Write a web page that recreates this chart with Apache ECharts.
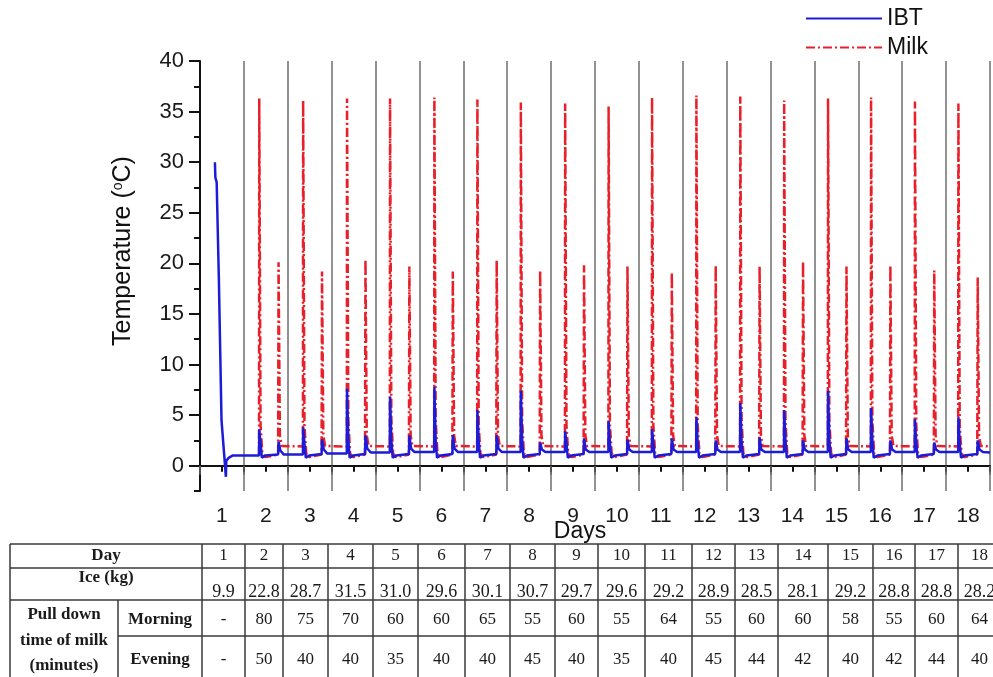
<!DOCTYPE html>
<html>
<head>
<meta charset="utf-8">
<script src="https://cdn.jsdelivr.net/npm/echarts@6/dist/echarts.min.js"></script>
<style>
  html, body { margin: 0; padding: 0; background: #fff; }
  #main { width: 993px; height: 677px; }
</style>
</head>
<body>
<div id="main"></div>
<script>
// IBT (ice bank temperature), [day, °C]
var ibtData = [
  [0.84, 30.0], [0.85, 28.5], [0.88, 28.0], [0.93, 18.4], [0.99, 4.5], [1.09, -1.1], [1.10, 0.5], [1.16, 0.8], [1.24, 1.0],
  [1.845, 1.0], [1.85, 3.6], [1.88, 2.2], [1.91, 0.8], [1.99, 1.0], [2.28, 1.1], [2.29, 2.4], [2.33, 1.5], [2.41, 1.1],
  [2.845, 1.1], [2.85, 3.8], [2.88, 2.2], [2.91, 0.8], [2.99, 1.0], [3.27, 1.15], [3.28, 2.6], [3.32, 1.6], [3.40, 1.2],
  [3.845, 1.2], [3.85, 7.6], [3.88, 2.5], [3.91, 0.8], [3.99, 1.0], [4.26, 1.15], [4.27, 3.0], [4.31, 1.7], [4.39, 1.3],
  [4.825, 1.3], [4.83, 6.8], [4.86, 2.5], [4.89, 0.8], [4.97, 1.0], [5.26, 1.15], [5.27, 3.0], [5.31, 1.7], [5.39, 1.35],
  [5.835, 1.35], [5.84, 7.8], [5.87, 2.5], [5.90, 0.8], [5.98, 1.0], [6.25, 1.15], [6.26, 3.0], [6.30, 1.7], [6.38, 1.35],
  [6.815, 1.35], [6.82, 5.5], [6.85, 2.5], [6.88, 0.8], [6.96, 1.0], [7.25, 1.15], [7.26, 3.0], [7.30, 1.7], [7.38, 1.35],
  [7.805, 1.35], [7.81, 7.4], [7.84, 2.5], [7.87, 0.8], [7.95, 1.0], [8.24, 1.15], [8.25, 2.3], [8.29, 1.6], [8.37, 1.35],
  [8.815, 1.35], [8.82, 3.4], [8.85, 2.2], [8.88, 0.8], [8.96, 1.0], [9.24, 1.15], [9.25, 2.7], [9.29, 1.6], [9.37, 1.35],
  [9.805, 1.35], [9.81, 4.4], [9.84, 2.2], [9.87, 0.8], [9.95, 1.0], [10.23, 1.15], [10.24, 2.6], [10.28, 1.6], [10.36, 1.35],
  [10.795, 1.35], [10.80, 3.6], [10.83, 2.2], [10.86, 0.8], [10.94, 1.0], [11.24, 1.15], [11.25, 2.7], [11.29, 1.6], [11.37, 1.35],
  [11.805, 1.35], [11.81, 4.8], [11.84, 2.2], [11.87, 0.8], [11.95, 1.0], [12.24, 1.15], [12.25, 2.5], [12.29, 1.6], [12.37, 1.35],
  [12.805, 1.35], [12.81, 6.2], [12.84, 2.5], [12.87, 0.8], [12.95, 1.0], [13.24, 1.15], [13.25, 2.8], [13.29, 1.6], [13.37, 1.35],
  [13.805, 1.35], [13.81, 5.5], [13.84, 2.5], [13.87, 0.8], [13.95, 1.0], [14.23, 1.15], [14.24, 2.5], [14.28, 1.6], [14.36, 1.35],
  [14.805, 1.35], [14.81, 7.4], [14.84, 2.5], [14.87, 0.8], [14.95, 1.0], [15.22, 1.15], [15.23, 2.7], [15.27, 1.6], [15.35, 1.35],
  [15.785, 1.35], [15.79, 5.7], [15.82, 2.5], [15.85, 0.8], [15.93, 1.0], [16.22, 1.15], [16.23, 2.5], [16.27, 1.6], [16.35, 1.35],
  [16.785, 1.35], [16.79, 4.6], [16.82, 2.2], [16.85, 0.8], [16.93, 1.0], [17.22, 1.15], [17.23, 2.3], [17.27, 1.6], [17.35, 1.35],
  [17.775, 1.35], [17.78, 4.8], [17.81, 2.2], [17.84, 0.8], [17.92, 1.0], [18.21, 1.15], [18.22, 2.5], [18.26, 1.6], [18.34, 1.35], [18.5, 1.3]
];

// Milk temperature, [day, °C]
var milkData = [
  [1.845, 1.0], [1.85, 36.3], [1.88, 4.0], [1.92, 1.2], [1.99, 0.85], [2.28, 1.1], [2.29, 20.1], [2.32, 3.0], [2.36, 1.95],
  [2.845, 1.9], [2.85, 36.1], [2.88, 4.0], [2.92, 1.2], [2.99, 0.85], [3.27, 1.1], [3.28, 19.2], [3.31, 3.0], [3.35, 1.95],
  [3.845, 1.9], [3.85, 36.3], [3.88, 4.5], [3.92, 1.2], [3.99, 0.85], [4.26, 1.1], [4.27, 20.4], [4.30, 3.0], [4.34, 1.95],
  [4.825, 1.9], [4.83, 36.3], [4.86, 4.5], [4.90, 1.2], [4.97, 0.85], [5.26, 1.1], [5.27, 19.7], [5.30, 3.0], [5.34, 1.95],
  [5.835, 1.9], [5.84, 36.4], [5.87, 4.5], [5.91, 1.2], [5.98, 0.85], [6.25, 1.1], [6.26, 19.2], [6.29, 3.0], [6.33, 1.95],
  [6.815, 1.9], [6.82, 36.2], [6.85, 4.0], [6.89, 1.2], [6.96, 0.85], [7.25, 1.1], [7.26, 20.3], [7.29, 3.0], [7.33, 1.95],
  [7.805, 1.9], [7.81, 35.9], [7.84, 4.5], [7.88, 1.2], [7.95, 0.85], [8.24, 1.1], [8.25, 19.3], [8.28, 3.0], [8.32, 1.95],
  [8.815, 1.9], [8.82, 35.8], [8.85, 4.0], [8.89, 1.2], [8.96, 0.85], [9.24, 1.1], [9.25, 19.8], [9.28, 3.0], [9.32, 1.95],
  [9.805, 1.9], [9.81, 35.5], [9.84, 4.0], [9.88, 1.2], [9.95, 0.85], [10.23, 1.1], [10.24, 19.7], [10.27, 3.0], [10.31, 1.95],
  [10.795, 1.9], [10.80, 36.4], [10.83, 4.0], [10.87, 1.2], [10.94, 0.85], [11.24, 1.1], [11.25, 19.1], [11.28, 3.0], [11.32, 1.95],
  [11.805, 1.9], [11.81, 36.6], [11.84, 4.0], [11.88, 1.2], [11.95, 0.85], [12.24, 1.1], [12.25, 19.8], [12.28, 3.0], [12.32, 1.95],
  [12.805, 1.9], [12.81, 36.5], [12.84, 4.5], [12.88, 1.2], [12.95, 0.85], [13.24, 1.1], [13.25, 19.7], [13.28, 3.0], [13.32, 1.95],
  [13.805, 1.9], [13.81, 36.1], [13.84, 4.5], [13.88, 1.2], [13.95, 0.85], [14.23, 1.1], [14.24, 20.2], [14.27, 3.0], [14.31, 1.95],
  [14.805, 1.9], [14.81, 36.3], [14.84, 4.5], [14.88, 1.2], [14.95, 0.85], [15.22, 1.1], [15.23, 19.7], [15.26, 3.0], [15.30, 1.95],
  [15.785, 1.9], [15.79, 36.4], [15.82, 4.5], [15.86, 1.2], [15.93, 0.85], [16.22, 1.1], [16.23, 19.8], [16.26, 3.0], [16.30, 1.95],
  [16.785, 1.9], [16.79, 36.0], [16.82, 4.0], [16.86, 1.2], [16.93, 0.85], [17.22, 1.1], [17.23, 19.3], [17.26, 3.0], [17.30, 1.95],
  [17.775, 1.9], [17.78, 35.8], [17.81, 4.0], [17.85, 1.2], [17.92, 0.85], [18.21, 1.1], [18.22, 18.6], [18.25, 3.0], [18.29, 1.95], [18.5, 1.9]
];

// table under the chart
var dayList = ['1', '2', '3', '4', '5', '6', '7', '8', '9', '10', '11', '12', '13', '14', '15', '16', '17', '18'];
var iceKg = ['9.9', '22.8', '28.7', '31.5', '31.0', '29.6', '30.1', '30.7', '29.7', '29.6', '29.2', '28.9', '28.5', '28.1', '29.2', '28.8', '28.8', '28.2'];
var pullMorning = ['-', '80', '75', '70', '60', '60', '65', '55', '60', '55', '64', '55', '60', '60', '58', '55', '60', '64'];
var pullEvening = ['-', '50', '40', '40', '35', '40', '40', '45', '40', '35', '40', '45', '44', '42', '40', '42', '44', '40'];

// table layout (pixels)
var colX = [10, 118, 202, 245, 283, 328, 373, 418, 465, 510, 555, 598, 645, 692, 735, 778, 828, 873, 915, 958, 1001];
var rowY = [544, 568, 600, 636, 680];

var myChart = echarts.init(document.getElementById('main'));

function buildTable() {
    var els = [];
    var lineStyle = { stroke: '#3a3a3a', lineWidth: 1.5 };
    function hLine(y, x1, x2) {
        els.push({ type: 'line', shape: { x1: x1, y1: y, x2: x2, y2: y }, style: lineStyle, silent: true });
    }
    function vLine(x, y1, y2) {
        els.push({ type: 'line', shape: { x1: x, y1: y1, x2: x, y2: y2 }, style: lineStyle, silent: true });
    }
    function txt(s, x, y, bold, size) {
        els.push({
            type: 'text', x: x, y: y, silent: true,
            style: {
                text: s, fill: '#1a1a1a',
                font: (bold ? 'bold ' : '') + size + 'px "Liberation Serif", serif',
                textAlign: 'center', textVerticalAlign: 'middle'
            }
        });
    }
    hLine(rowY[0], colX[0], 993);
    hLine(rowY[1], colX[0], 993);
    hLine(rowY[2], colX[0], 993);
    hLine(rowY[3], colX[1], 993);
    vLine(colX[0], rowY[0], 677);
    vLine(colX[1], rowY[2], 677);
    for (var c = 2; c < colX.length - 1; c++) {
        vLine(colX[c], rowY[0], 677);
    }
    txt('Day', (colX[0] + colX[2]) / 2, 556, true, 17);
    txt('Ice (kg)', (colX[0] + colX[2]) / 2, 578, true, 17);
    txt('Pull down', (colX[0] + colX[1]) / 2, 615, true, 17);
    txt('time of milk', (colX[0] + colX[1]) / 2, 641, true, 17);
    txt('(minutes)', (colX[0] + colX[1]) / 2, 666, true, 17);
    txt('Morning', (colX[1] + colX[2]) / 2, 620, true, 17);
    txt('Evening', (colX[1] + colX[2]) / 2, 660, true, 17);
    for (var i = 0; i < dayList.length; i++) {
        var cx = (colX[i + 2] + colX[i + 3]) / 2;
        txt(dayList[i], cx, 556, false, 17);
        txt(iceKg[i], cx, 592, false, 18);
        txt(pullMorning[i], cx, 620, false, 17);
        txt(pullEvening[i], cx, 660, false, 17);
    }
    return els;
}

var majorY = [0, 5, 10, 15, 20, 25, 30, 35, 40];

var option = {
    animation: false,
    backgroundColor: '#fff',
    textStyle: { fontFamily: 'Liberation Sans, Arial, sans-serif' },
    grid: { left: 200, right: 0, top: 61, bottom: 186, containLabel: false },
    legend: {
        data: ['IBT', 'Milk'],
        orient: 'vertical',
        left: 800,
        top: 2,
        itemWidth: 76,
        itemHeight: 14,
        itemGap: 6,
        itemStyle: { opacity: 0 },
        textStyle: { fontSize: 23, color: '#111' }
    },
    xAxis: [{
        type: 'value',
        min: 0.5,
        max: 18.5,
        interval: 0.5,
        name: 'Days',
        nameLocation: 'middle',
        nameGap: 29,
        nameMoveOverlap: false,
        nameTextStyle: { fontSize: 23, color: '#111', padding: [0, 30, 0, 0] },
        axisLine: { lineStyle: { color: '#111', width: 2 } },
        axisTick: { length: 6, lineStyle: { color: '#111', width: 2 } },
        axisLabel: {
            fontSize: 21, color: '#1a1a1a', margin: 15,
            formatter: function (v) { return v % 1 === 0 ? String(v) : ''; }
        },
        splitLine: { show: false }
    }, {
        // day separators (half-day positions)
        type: 'value',
        position: 'bottom',
        min: 0.5,
        max: 18.5,
        interval: 1,
        axisLine: { show: false },
        axisTick: { length: 9, lineStyle: { color: '#666', width: 1.5 } },
        axisLabel: { show: false },
        splitLine: { show: true, lineStyle: { color: '#6e6e6e', width: 1.5 } }
    }],
    yAxis: [{
        type: 'value',
        position: 'left',
        min: -2.5,
        max: 40,
        name: 'Temperature ({sup|o}C)',
        nameLocation: 'middle',
        nameGap: 64,
        nameMoveOverlap: false,
        nameTextStyle: {
            fontSize: 25, color: '#111', padding: [0, 0, 0, 50],
            rich: { sup: { fontSize: 14, verticalAlign: 'top', color: '#111', padding: [0, 0, 10, 0] } }
        },
        axisLine: { show: true, lineStyle: { color: '#111', width: 2 } },
        axisTick: { show: true, length: 11, customValues: majorY, lineStyle: { color: '#111', width: 2 } },
        axisLabel: { fontSize: 22, color: '#1a1a1a', margin: 16, customValues: majorY },
        splitLine: { show: false }
    }, {
        type: 'value',
        position: 'left',
        min: -2.5,
        max: 40,
        interval: 2.5,
        axisLine: { show: false },
        axisTick: { show: true, length: 6, lineStyle: { color: '#111', width: 2 } },
        axisLabel: { show: false },
        splitLine: { show: false }
    }],
    series: [{
        name: 'IBT',
        type: 'line',
        data: ibtData,
        symbol: 'none',
        z: 4,
        lineStyle: { color: '#1c1cd8', width: 2.5 },
        itemStyle: { color: '#1c1cd8' }
    }, {
        name: 'Milk',
        type: 'line',
        data: milkData,
        symbol: 'none',
        z: 3,
        lineStyle: { color: '#e8202a', width: 2.5, type: [9, 3, 2, 3] },
        itemStyle: { color: '#e8202a' }
    }],
    graphic: buildTable()
};

myChart.setOption(option);
</script>
</body>
</html>
